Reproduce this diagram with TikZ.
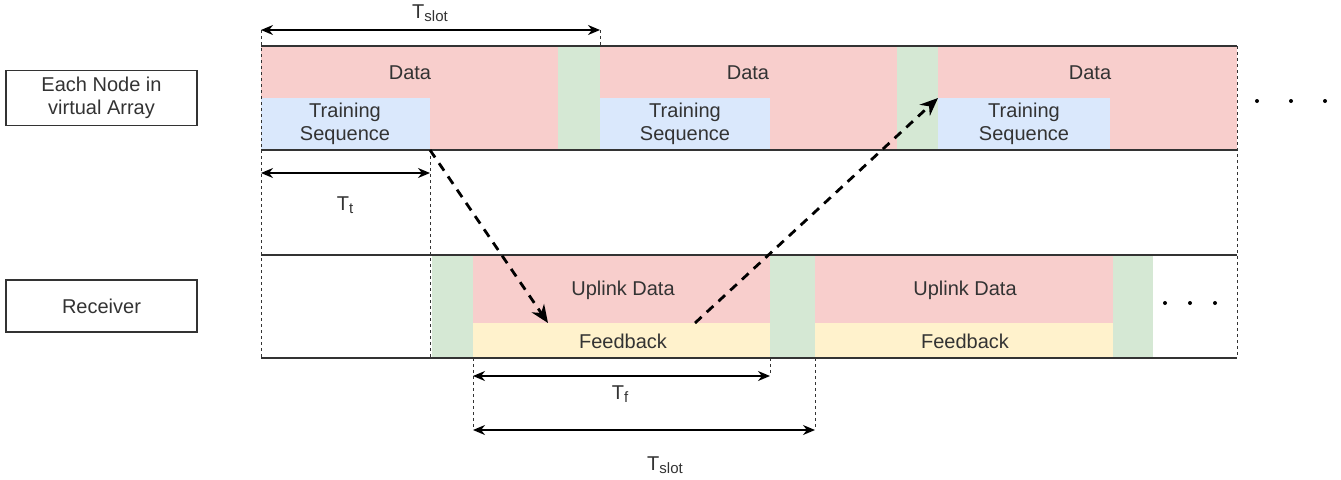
\documentclass[tikz,border=0pt]{standalone}
\usepackage{fontspec}
\setmainfont{Liberation Sans}
\usetikzlibrary{arrows.meta}
\definecolor{datared}{HTML}{F8CECC}
\definecolor{trainblue}{HTML}{DAE8FC}
\definecolor{guardgreen}{HTML}{D5E8D4}
\definecolor{fbyellow}{HTML}{FFF2CC}
\definecolor{inkgrey}{HTML}{333333}
\newcommand{\tsub}[1]{T\raisebox{-1.5pt}{\fontsize{7.5}{8}\selectfont #1}}
\begin{document}
\begin{tikzpicture}[x=0.5pt,y=-0.5pt,font=\fontsize{10}{11.5}\selectfont,
  txt/.style={text=inkgrey,align=center,inner sep=0pt},
  lbl/.style={draw=inkgrey,line width=0.75pt,text=inkgrey,align=center,minimum width=95.5pt,minimum height=26pt},
  dim/.style={{Stealth[length=6pt,width=5pt]}-{Stealth[length=6pt,width=5pt]},line width=0.75pt},
  guide/.style={draw=inkgrey,dash pattern=on 1.5pt off 1.5pt,line width=0.5pt},
  msg/.style={-{Stealth[length=9pt,width=7.5pt]},dash pattern=on 4.5pt off 3.5pt,line width=1.4pt}]
\useasboundingbox (0,0) rectangle (1341,479);

% node row
\fill[datared] (261,46) rectangle (1237,150);
\fill[guardgreen] (558,46) rectangle (600,150);
\fill[guardgreen] (897,46) rectangle (938,150);
\fill[trainblue] (261,98) rectangle (430,150);
\fill[trainblue] (600,98) rectangle (770,150);
\fill[trainblue] (938,98) rectangle (1110,150);
\draw[inkgrey,line width=0.75pt] (261,46) -- (1237,46) (261,150) -- (1237,150);

% receiver row
\fill[guardgreen] (432,255) rectangle (473,358);
\fill[datared] (473,255) rectangle (770,323);
\fill[fbyellow] (473,323) rectangle (770,358);
\fill[guardgreen] (770,255) rectangle (815,358);
\fill[datared] (815,255) rectangle (1113,323);
\fill[fbyellow] (815,323) rectangle (1113,358);
\fill[guardgreen] (1113,255) rectangle (1153,358);
\draw[inkgrey,line width=0.75pt] (261,255) -- (1237,255) (261,358) -- (1237,358);

\node[lbl] (na) at (101.5,98) {Each Node in\\virtual Array};
\node[lbl] (rx) at (101.5,306) {Receiver};

\node[txt] (d1) at (410,73) {Data};
\node[txt] (d2) at (748,73) {Data};
\node[txt] (d3) at (1090,73) {Data};
\node[txt] (t1) at (345,124) {Training\\Sequence};
\node[txt] (t2) at (685,124) {Training\\Sequence};
\node[txt] (t3) at (1024,124) {Training\\Sequence};
\node[txt] (u1) at (623,290) {Uplink Data};
\node[txt] (u2) at (965,290) {Uplink Data};
\node[txt] (f1) at (623,341) {Feedback};
\node[txt] (f2) at (965,341) {Feedback};

% guide lines
\coordinate (g0) at (261,30);
\coordinate (g1) at (261,358);
\coordinate (g2) at (600,30);
\coordinate (g3) at (600,46);
\coordinate (g4) at (430,150);
\coordinate (g5) at (430,358);
\coordinate (g6) at (1237,46);
\coordinate (g7) at (1237,358);
\coordinate (g8) at (473,358);
\coordinate (g9) at (473,430);
\coordinate (g10) at (770,358);
\coordinate (g11) at (770,376);
\coordinate (g12) at (815,358);
\coordinate (g13) at (815,430);
\draw[guide] (g0) -- (g1) (g2) -- (g3) (g4) -- (g5) (g6) -- (g7)
  (g8) -- (g9) (g10) -- (g11) (g12) -- (g13);

% durations
\coordinate (ts0) at (261,30);
\coordinate (ts1) at (600,30);
\coordinate (tt0) at (261,173);
\coordinate (tt1) at (430,173);
\coordinate (tf0) at (473,376);
\coordinate (tf1) at (770,376);
\coordinate (tb0) at (473,430);
\coordinate (tb1) at (815,430);
\draw[dim] (ts0) -- (ts1);
\draw[dim] (tt0) -- (tt1);
\draw[dim] (tf0) -- (tf1);
\draw[dim] (tb0) -- (tb1);
\node[txt] (ls1) at (430,13) {\tsub{slot}};
\node[txt] (lt) at (345,205) {\tsub{t}};
\node[txt] (lf) at (620,394) {\tsub{f}};
\node[txt] (ls2) at (665,465) {\tsub{slot}};

% messages
\coordinate (m0) at (430,150);
\coordinate (m1) at (548,323);
\coordinate (m2) at (695,323);
\coordinate (m3) at (938,98);
\draw[msg] (m0) -- (m1);
\draw[msg] (m2) -- (m3);

% more slots
\foreach \x in {1257,1291,1325} \fill (\x,101) circle (1pt);
\foreach \x in {1165,1190,1215} \fill (\x,303) circle (1pt);
\end{tikzpicture}
\end{document}
